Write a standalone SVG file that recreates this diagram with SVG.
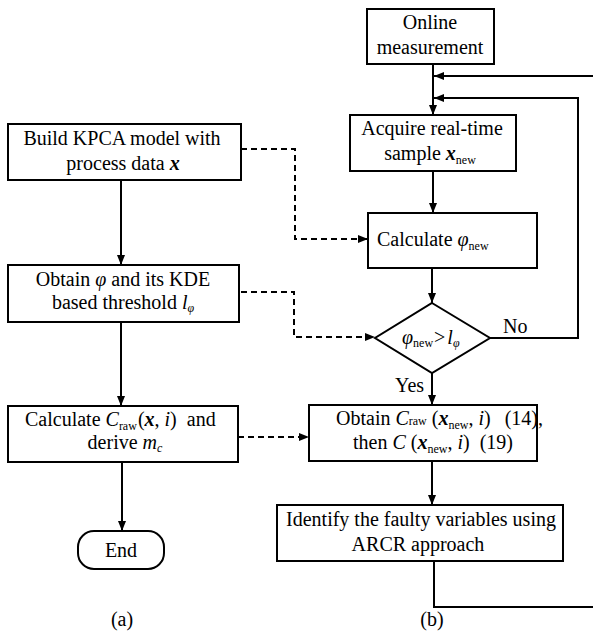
<svg xmlns="http://www.w3.org/2000/svg" width="593" height="639" viewBox="0 0 593 639">
<style>
.box{fill:#fff;stroke:#000;stroke-width:2}
.t{font-family:"Liberation Serif","DejaVu Serif",serif;font-size:20px;fill:#000}
.c{text-anchor:middle}
.s{font-size:12px}
.i{font-style:italic}
.bi{font-style:italic;font-weight:bold}
.ln{fill:none;stroke:#000;stroke-width:2}
.d{stroke-dasharray:6 4}
</style>
<defs>
<marker id="ah" viewBox="0 0 10 8" refX="10" refY="4" markerWidth="10" markerHeight="8" markerUnits="userSpaceOnUse" orient="auto">
<path d="M0,0 L10,4 L0,8 z" fill="#000"/>
</marker>
</defs>

<g id="connectors">
<path class="ln" d="M121,180 V265" marker-end="url(#ah)"/>
<path class="ln" d="M121,322 V406" marker-end="url(#ah)"/>
<path class="ln" d="M122,462 V531" marker-end="url(#ah)"/>
<path class="ln d" d="M241,149 H295 V239 H368" marker-end="url(#ah)"/>
<path class="ln d" d="M241,292 H294 V337 H375" marker-end="url(#ah)"/>
<path class="ln d" d="M238,437 H309" marker-end="url(#ah)"/>
<path class="ln" d="M433,64 V115" marker-end="url(#ah)"/>
<path class="ln" d="M433,171 V213" marker-end="url(#ah)"/>
<path class="ln" d="M432,268 V303" marker-end="url(#ah)"/>
<path class="ln" d="M432,373 V405" marker-end="url(#ah)"/>
<path class="ln" d="M432,461 V505" marker-end="url(#ah)"/>
<path class="ln" d="M490,338 H578 V98 H434" marker-end="url(#ah)"/>
<path class="ln" d="M434,561 V607 H605 V76 H434" marker-end="url(#ah)"/>
<text class="t" x="503" y="333">No</text>
<text class="t" x="395" y="392">Yes</text>
</g>

<g id="build">
<rect class="box" x="8" y="124" width="233" height="56"/>
<text class="t c" x="122" y="145">Build KPCA model with</text>
<text class="t c" x="123" y="170">process data <tspan class="bi">x</tspan></text>
</g>

<g id="obtain-phi">
<rect class="box" x="8" y="265" width="231" height="57"/>
<text class="t c" x="123" y="286">Obtain <tspan class="i">φ</tspan> and its KDE</text>
<text class="t c" x="123" y="309">based threshold <tspan class="i">l</tspan><tspan class="s i" dy="3">φ</tspan></text>
</g>

<g id="calc-craw">
<rect class="box" x="8" y="406" width="230" height="56"/>
<text class="t" x="25" y="426">Calculate <tspan class="i">C</tspan><tspan class="s" dy="4">raw</tspan><tspan dy="-4" dx="1">(</tspan><tspan class="bi">x</tspan>, <tspan class="i">i</tspan>)<tspan dx="10">and</tspan></text>
<text class="t c" x="125" y="449">derive <tspan class="i">m</tspan><tspan class="s i" dy="3">c</tspan></text>
</g>

<g id="end">
<rect class="box" x="78" y="531" width="86" height="38" rx="16" ry="16"/>
<text class="t c" x="121" y="557">End</text>
</g>

<g id="online">
<rect class="box" x="367" y="9" width="127" height="55"/>
<text class="t c" x="430" y="29">Online</text>
<text class="t c" x="430" y="54">measurement</text>
</g>

<g id="acquire">
<rect class="box" x="350" y="115" width="166" height="56"/>
<text class="t c" x="432" y="135">Acquire real-time</text>
<text class="t c" x="430" y="160">sample <tspan class="bi">x</tspan><tspan class="s" dy="4">new</tspan></text>
</g>

<g id="calc-phi">
<rect class="box" x="368" y="213" width="169" height="55"/>
<text class="t" x="377" y="246">Calculate <tspan class="i">φ</tspan><tspan class="s" dy="4">new</tspan></text>
</g>

<g id="decision">
<polygon class="box" points="432,303 490,338 432,373 375,338"/>
<text class="t" x="402" y="344"><tspan class="i">φ</tspan><tspan class="s" dy="3">new</tspan><tspan dy="-3" dx="1">&gt;</tspan><tspan class="i" dx="2">l</tspan><tspan class="s i" dy="3">φ</tspan></text>
</g>

<g id="obtain-c">
<rect class="box" x="309" y="405" width="228" height="56"/>
<text class="t" x="336" y="425">Obtain <tspan class="i">C</tspan><tspan class="s">raw</tspan> (<tspan class="bi">x</tspan><tspan class="s" dy="4">new</tspan><tspan dy="-4">, </tspan><tspan class="i">i</tspan>)<tspan dx="14">(14),</tspan></text>
<text class="t" x="353" y="449">then <tspan class="i">C</tspan> (<tspan class="bi">x</tspan><tspan class="s" dy="4">new</tspan><tspan dy="-4">, </tspan><tspan class="i">i</tspan>)<tspan dx="10">(19)</tspan></text>
</g>

<g id="identify">
<rect class="box" x="277" y="505" width="286" height="56"/>
<text class="t c" x="421" y="526">Identify the faulty variables using</text>
<text class="t c" x="418" y="551">ARCR approach</text>
</g>

<g id="captions">
<text class="t c" x="122" y="626">(a)</text>
<text class="t c" x="432" y="626">(b)</text>
</g>
</svg>
